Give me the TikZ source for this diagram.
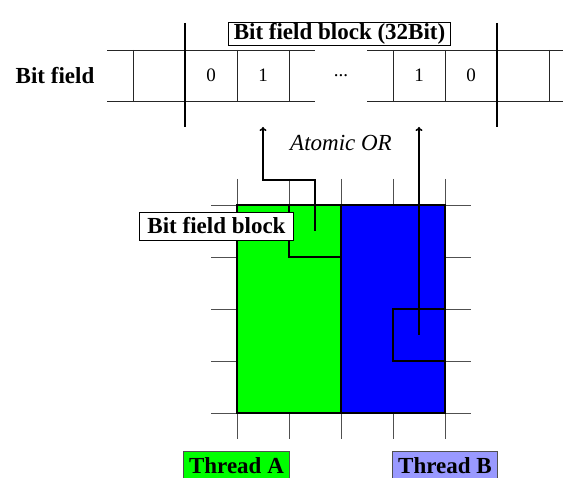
\documentclass[tikz,border=0pt]{standalone}
\usepackage{fontspec}
\setmainfont{Liberation Serif}
\usetikzlibrary{arrows.meta}
\definecolor{gridgray}{RGB}{80,80,80}
\definecolor{pureGreen}{RGB}{0,255,0}
\definecolor{pureBlue}{RGB}{0,0,255}
\definecolor{lavender}{RGB}{153,153,255}
\tikzset{
  big/.style={font=\fontsize{23}{27}\selectfont},
  bigbf/.style={font=\fontsize{23}{27}\selectfont\bfseries},
  digit/.style={font=\fontsize{19}{23}\selectfont},
  labelbox/.style={bigbf, draw=black, fill=white, line width=0.8pt, inner xsep=8pt, inner ysep=1pt},
  threadbox/.style={bigbf, draw=gridgray, line width=0.9pt, inner xsep=5.5pt, inner ysep=5.5pt, anchor=north},
  cellline/.style={draw=black!85, line width=0.9pt},
  tallline/.style={draw=black, line width=1.4pt},
  gridline/.style={draw=gridgray, line width=0.8pt},
  blockline/.style={draw=black, line width=1.1pt},
  oparrow/.style={draw=black, line width=1.6pt, -{To[length=4pt,width=7pt]}}
}
\begin{document}
\begin{tikzpicture}[x=1pt, y=-1pt]
\useasboundingbox (0,0) rectangle (563,478);
% ---- grid of thread area ----
\foreach \gx in {237,289,341,393,445} \draw[gridline] (\gx,179) -- (\gx,439);
\foreach \gy in {205,257,309,361,413} \draw[gridline] (211,\gy) -- (471,\gy);
\draw[fill=pureGreen, line width=1.4pt] (237,205) rectangle (341,413);
\draw[fill=pureBlue, line width=1.4pt] (341,205) rectangle (445,413);
\draw[blockline] (289,205) rectangle (341,257);
\draw[blockline] (393,309) rectangle (445,361);
% ---- bit field row ----
\draw[cellline] (107,50) -- (315,50);
\draw[cellline] (107,101) -- (315,101);
\draw[cellline] (367,50) -- (563,50);
\draw[cellline] (367,101) -- (563,101);
\foreach \cx in {133,237,289,393,445,549} \draw[cellline] (\cx,50) -- (\cx,101);
\draw[tallline] (185,23) -- (185,127);
\draw[tallline] (497,23) -- (497,127);
\node[bigbf] (bitfield) at (55,75.5) {Bit field};
\node[digit] (c0a) at (211,75.5) {0};
\node[digit] (c1a) at (263,75.5) {1};
\node[digit] (dots) at (341,75.5) {...};
\node[digit] (c1b) at (419,75.5) {1};
\node[digit] (c0b) at (471,75.5) {0};
\node[labelbox, inner xsep=5.5pt, minimum height=22pt] (blk32) at (339.5,34) {Bit field block (32Bit)};
% ---- arrows ----
\coordinate (srcA) at (315,231);
\coordinate (bendA1) at (315,180);
\coordinate (bendA2) at (263,180);
\coordinate (tipA) at (263,127);
\coordinate (srcB) at (419,335);
\coordinate (tipB) at (419,127);
\draw[oparrow] (srcA) -- (bendA1) -- (bendA2) -- (tipA);
\draw[oparrow] (srcB) -- (tipB);
\node[font=\fontsize{23}{27}\selectfont\itshape] (atomic) at (341,143) {Atomic OR};
% ---- labels ----
\node[labelbox, minimum height=28pt] (blk) at (216.5,226) {Bit field block};
\node[threadbox, fill=pureGreen] (thA) at (236.5,451.5) {Thread A};
\node[threadbox, fill=lavender] (thB) at (445,451.5) {Thread B};
\end{tikzpicture}
\end{document}
